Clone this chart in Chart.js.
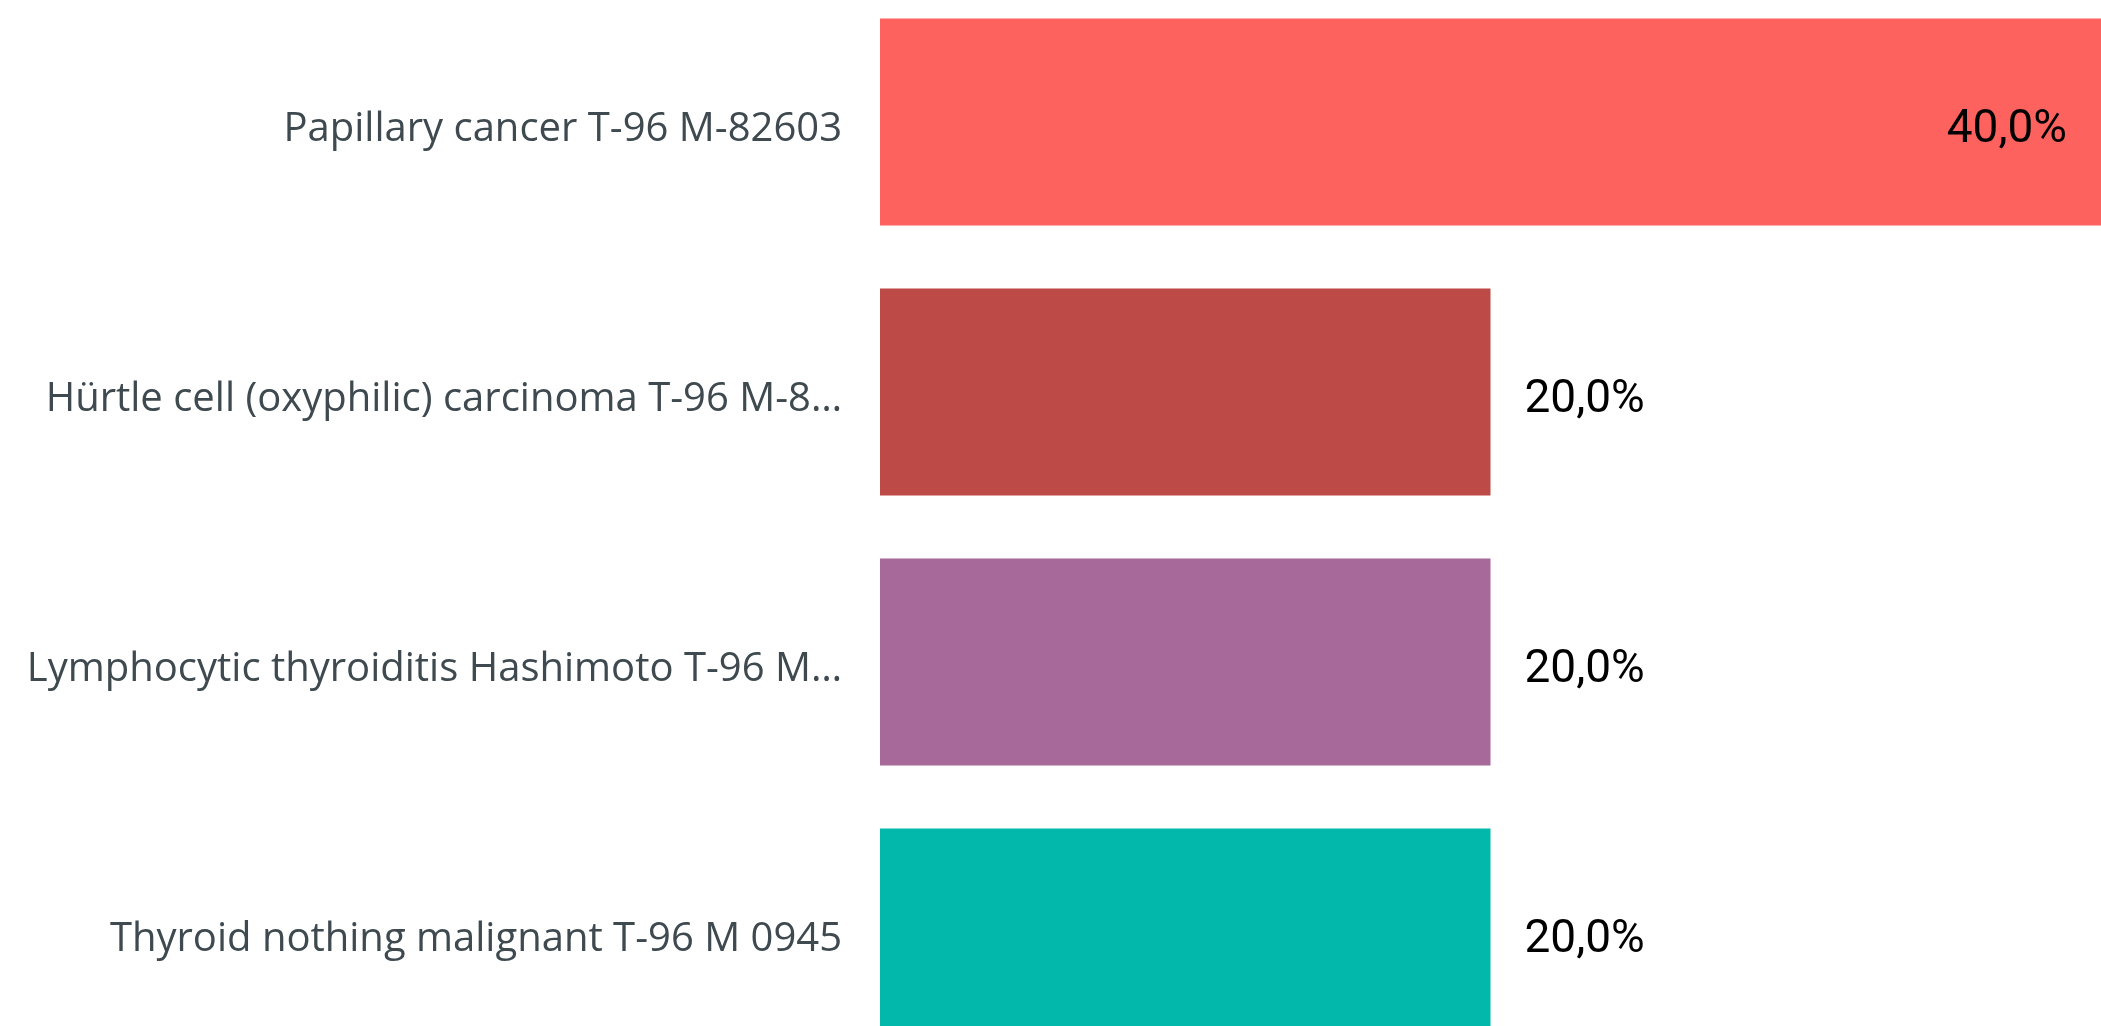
<!DOCTYPE html>
<html><head><meta charset="utf-8">
<script src="https://cdn.jsdelivr.net/npm/chart.js@4/dist/chart.umd.min.js"></script>
<style>
html,body{margin:0;padding:0;background:#fff;overflow:hidden;width:2101px;height:1026px;}
#wrap{position:absolute;left:0;top:-13px;width:2101px;height:1080px;}
</style></head><body>
<div id="wrap"><canvas id="c"></canvas></div>
<script>
const categories = [
  'Papillary cancer T-96 M-82603',
  'Hürtle cell (oxyphilic) carcinoma T-96 M-8…',
  'Lymphocytic thyroiditis Hashimoto T-96 M…',
  'Thyroid nothing malignant T-96 M 0945'
];
const values = [40, 20, 20, 20];
const barColors = ['#FD625E', '#BE4A47', '#A66999', '#01B8AA'];
const axisMin = 0;
const axisMax = 40;

const valueLabels = {
  id: 'valueLabels',
  afterDatasetsDraw(chart) {
    const ctx = chart.ctx;
    const meta = chart.getDatasetMeta(0);
    ctx.save();
    ctx.font = '46px Roboto';
    ctx.fillStyle = '#000000';
    ctx.textBaseline = 'alphabetic';
    const pad = 34;
    meta.data.forEach((bar, i) => {
      const txt = values[i].toFixed(1).replace('.', ',') + '%';
      const w = ctx.measureText(txt).width;
      if (bar.x + pad + w <= chart.chartArea.right) {
        ctx.textAlign = 'left';
        ctx.fillText(txt, bar.x + pad, bar.y + 20);
      } else {
        ctx.textAlign = 'right';
        ctx.fillText(txt, bar.x - pad, bar.y + 20);
      }
    });
    ctx.restore();
  }
};

function draw() {
  new Chart(document.getElementById('c'), {
    type: 'bar',
    data: {
      labels: categories,
      datasets: [{
        data: values,
        backgroundColor: barColors,
        borderWidth: 0,
        categoryPercentage: 1,
        barPercentage: 0.767
      }]
    },
    options: {
      indexAxis: 'y',
      responsive: true,
      maintainAspectRatio: false,
      animation: false,
      layout: { padding: 0 },
      plugins: { legend: { display: false }, tooltip: { enabled: false } },
      scales: {
        x: { display: false, min: axisMin, max: axisMax },
        y: {
          grid: { display: false, drawTicks: false, tickLength: 0 },
          border: { display: false },
          ticks: {
            font: { family: "'Open Sans'", size: 40 },
            color: '#3E4A4F',
            padding: 38,
            labelOffset: 8
          },
          afterFit: (s) => { s.width = 880; s.paddingTop = 0; s.paddingBottom = 0; }
        }
      }
    },
    plugins: [valueLabels]
  });
}
Promise.all([
  document.fonts.load("40px 'Open Sans'"),
  document.fonts.load("46px Roboto")
]).then(draw, draw);
</script>
</body></html>
